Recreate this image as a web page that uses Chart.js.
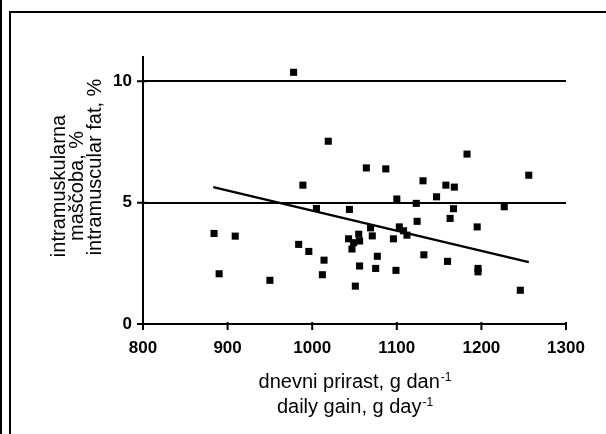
<!DOCTYPE html>
<html>
<head>
<meta charset="utf-8">
<script src="https://cdn.jsdelivr.net/npm/chart.js@4"></script>
<style>
  html, body { margin: 0; padding: 0; background: #fff; }
  #wrap { position: relative; width: 606px; height: 434px; overflow: hidden; }
  #outer { position: absolute; left: 0; top: 0; width: 2px; height: 434px; background: #000; }
  #frame { position: absolute; left: 9px; top: 11px; width: 700px; height: 500px; border-left: 2px solid #000; border-top: 2px solid #000; }
  canvas { position: absolute; left: 0; top: 0; }
</style>
</head>
<body>
<div id="wrap">
  <div id="outer"></div>
  <div id="frame"></div>
  <canvas id="fat-chart" width="606" height="434"></canvas>
</div>
<script>
// ---- data ----
const gainX = [978, 1019, 989, 1183, 1064, 1087, 1256, 1131, 1158, 1168,
               1100, 1147, 1044, 1123, 1227, 1167, 1163, 1124, 1195, 1069,
               1103, 1108, 1112, 1055, 1071, 1096, 1056, 1043, 1049, 1047,
               1077, 1132, 1160, 1056, 1075, 1099, 1196, 1196, 1246, 1051,
               1005, 884, 909, 984, 996, 1014, 1012, 890, 950];
const fatY  = [10.37, 7.53, 5.72, 7.0, 6.43, 6.39, 6.13, 5.9, 5.72, 5.64,
               5.15, 5.24, 4.72, 4.97, 4.83, 4.75, 4.35, 4.23, 4.0, 3.96,
               4.0, 3.84, 3.66, 3.7, 3.63, 3.51, 3.42, 3.51, 3.35, 3.09,
               2.79, 2.85, 2.58, 2.39, 2.29, 2.21, 2.29, 2.15, 1.39, 1.56,
               4.76, 3.73, 3.62, 3.28, 2.99, 2.63, 2.03, 2.07, 1.8];
const trendX = [883, 1256];
const trendY = [5.64, 2.55];

const xTickValues = [800, 900, 1000, 1100, 1200, 1300];
const yTickValues = [0, 5, 10];

const yTitleLines = ['intramuskularna', 'maščoba, %', 'intramuscular fat, %'];
const xTitleLines = [['dnevni prirast, g dan', '-1'], ['daily gain, g day', '-1']];

const FONT = '"Liberation Sans", Arial, sans-serif';
Chart.defaults.color = '#000';

// tick marks crossing the axes + axis titles
const axisExtras = {
    id: 'axisExtras',
    afterDraw(chart) {
        const { ctx, chartArea, scales } = chart;
        ctx.save();
        ctx.strokeStyle = '#000';
        ctx.lineWidth = 2;
        ctx.beginPath();
        scales.x.ticks.forEach(t => {
            const px = scales.x.getPixelForValue(t.value);
            ctx.moveTo(px, chartArea.bottom - 2);
            ctx.lineTo(px, chartArea.bottom + 6);
        });
        scales.y.ticks.forEach(t => {
            const py = scales.y.getPixelForValue(t.value);
            ctx.moveTo(chartArea.left - 6, py);
            ctx.lineTo(chartArea.left + 4, py);
        });
        ctx.stroke();

        ctx.fillStyle = '#000';
        // x title with superscript
        const cx = (chartArea.left + chartArea.right) / 2;
        const baselines = [388, 413];
        xTitleLines.forEach((parts, i) => {
            ctx.font = '20px ' + FONT;
            const w1 = ctx.measureText(parts[0]).width;
            ctx.font = '12px ' + FONT;
            const w2 = ctx.measureText(parts[1]).width;
            const x0 = cx - (w1 + w2) / 2;
            ctx.textAlign = 'left';
            ctx.textBaseline = 'alphabetic';
            ctx.font = '20px ' + FONT;
            ctx.fillText(parts[0], x0, baselines[i]);
            ctx.font = '12px ' + FONT;
            ctx.fillText(parts[1], x0 + w1 + 1, baselines[i] - 7);
        });

        // y title, rotated
        const yPos = [[65, 186], [83, 186], [101, 167]];
        ctx.font = '20px ' + FONT;
        ctx.textAlign = 'center';
        yTitleLines.forEach((line, i) => {
            ctx.save();
            ctx.translate(yPos[i][0], yPos[i][1]);
            ctx.rotate(-Math.PI / 2);
            ctx.fillText(line, 0, 0);
            ctx.restore();
        });
        ctx.restore();
    }
};

const ctxFat = document.getElementById('fat-chart').getContext('2d');
const fatChart = new Chart(ctxFat, {
    type: 'scatter',
    data: {
        datasets: [
            {
                label: 'fat',
                data: gainX.map((x, i) => ({ x: x, y: fatY[i] })),
                pointStyle: 'rect', pointRadius: 5, borderWidth: 0,
                backgroundColor: '#000', borderColor: '#000'
            },
            {
                label: 'trend',
                type: 'line',
                data: trendX.map((x, i) => ({ x: x, y: trendY[i] })),
                borderColor: '#000', borderWidth: 2.5, pointRadius: 0, fill: false
            }
        ]
    },
    options: {
        responsive: false, animation: false, devicePixelRatio: 1,
        layout: { padding: { left: 0, top: 57, right: 40, bottom: 0 } },
        plugins: { legend: { display: false }, tooltip: { enabled: false } },
        scales: {
            x: {
                type: 'linear', min: 800, max: 1300,
                afterBuildTicks: s => { s.ticks = xTickValues.map(v => ({ value: v })); },
                afterFit: s => { s.height = 110; },
                grid: { drawOnChartArea: false, drawTicks: false },
                border: { color: '#000', width: 2 },
                ticks: { padding: 14, callback: v => String(v), font: { family: FONT, size: 17, weight: 'bold' }, color: '#000' }
            },
            y: {
                type: 'linear', min: 0, max: 11,
                afterBuildTicks: s => { s.ticks = yTickValues.map(v => ({ value: v })); },
                afterFit: s => { s.width = 143; },
                grid: {
                    drawTicks: false, lineWidth: 2,
                    color: c => (c.tick && c.tick.value === 0) ? 'rgba(0,0,0,0)' : '#000'
                },
                border: { color: '#000', width: 2 },
                ticks: { padding: 11, callback: v => String(v), font: { family: FONT, size: 17, weight: 'bold' }, color: '#000' }
            }
        }
    },
    plugins: [axisExtras]
});
</script>
</body>
</html>
